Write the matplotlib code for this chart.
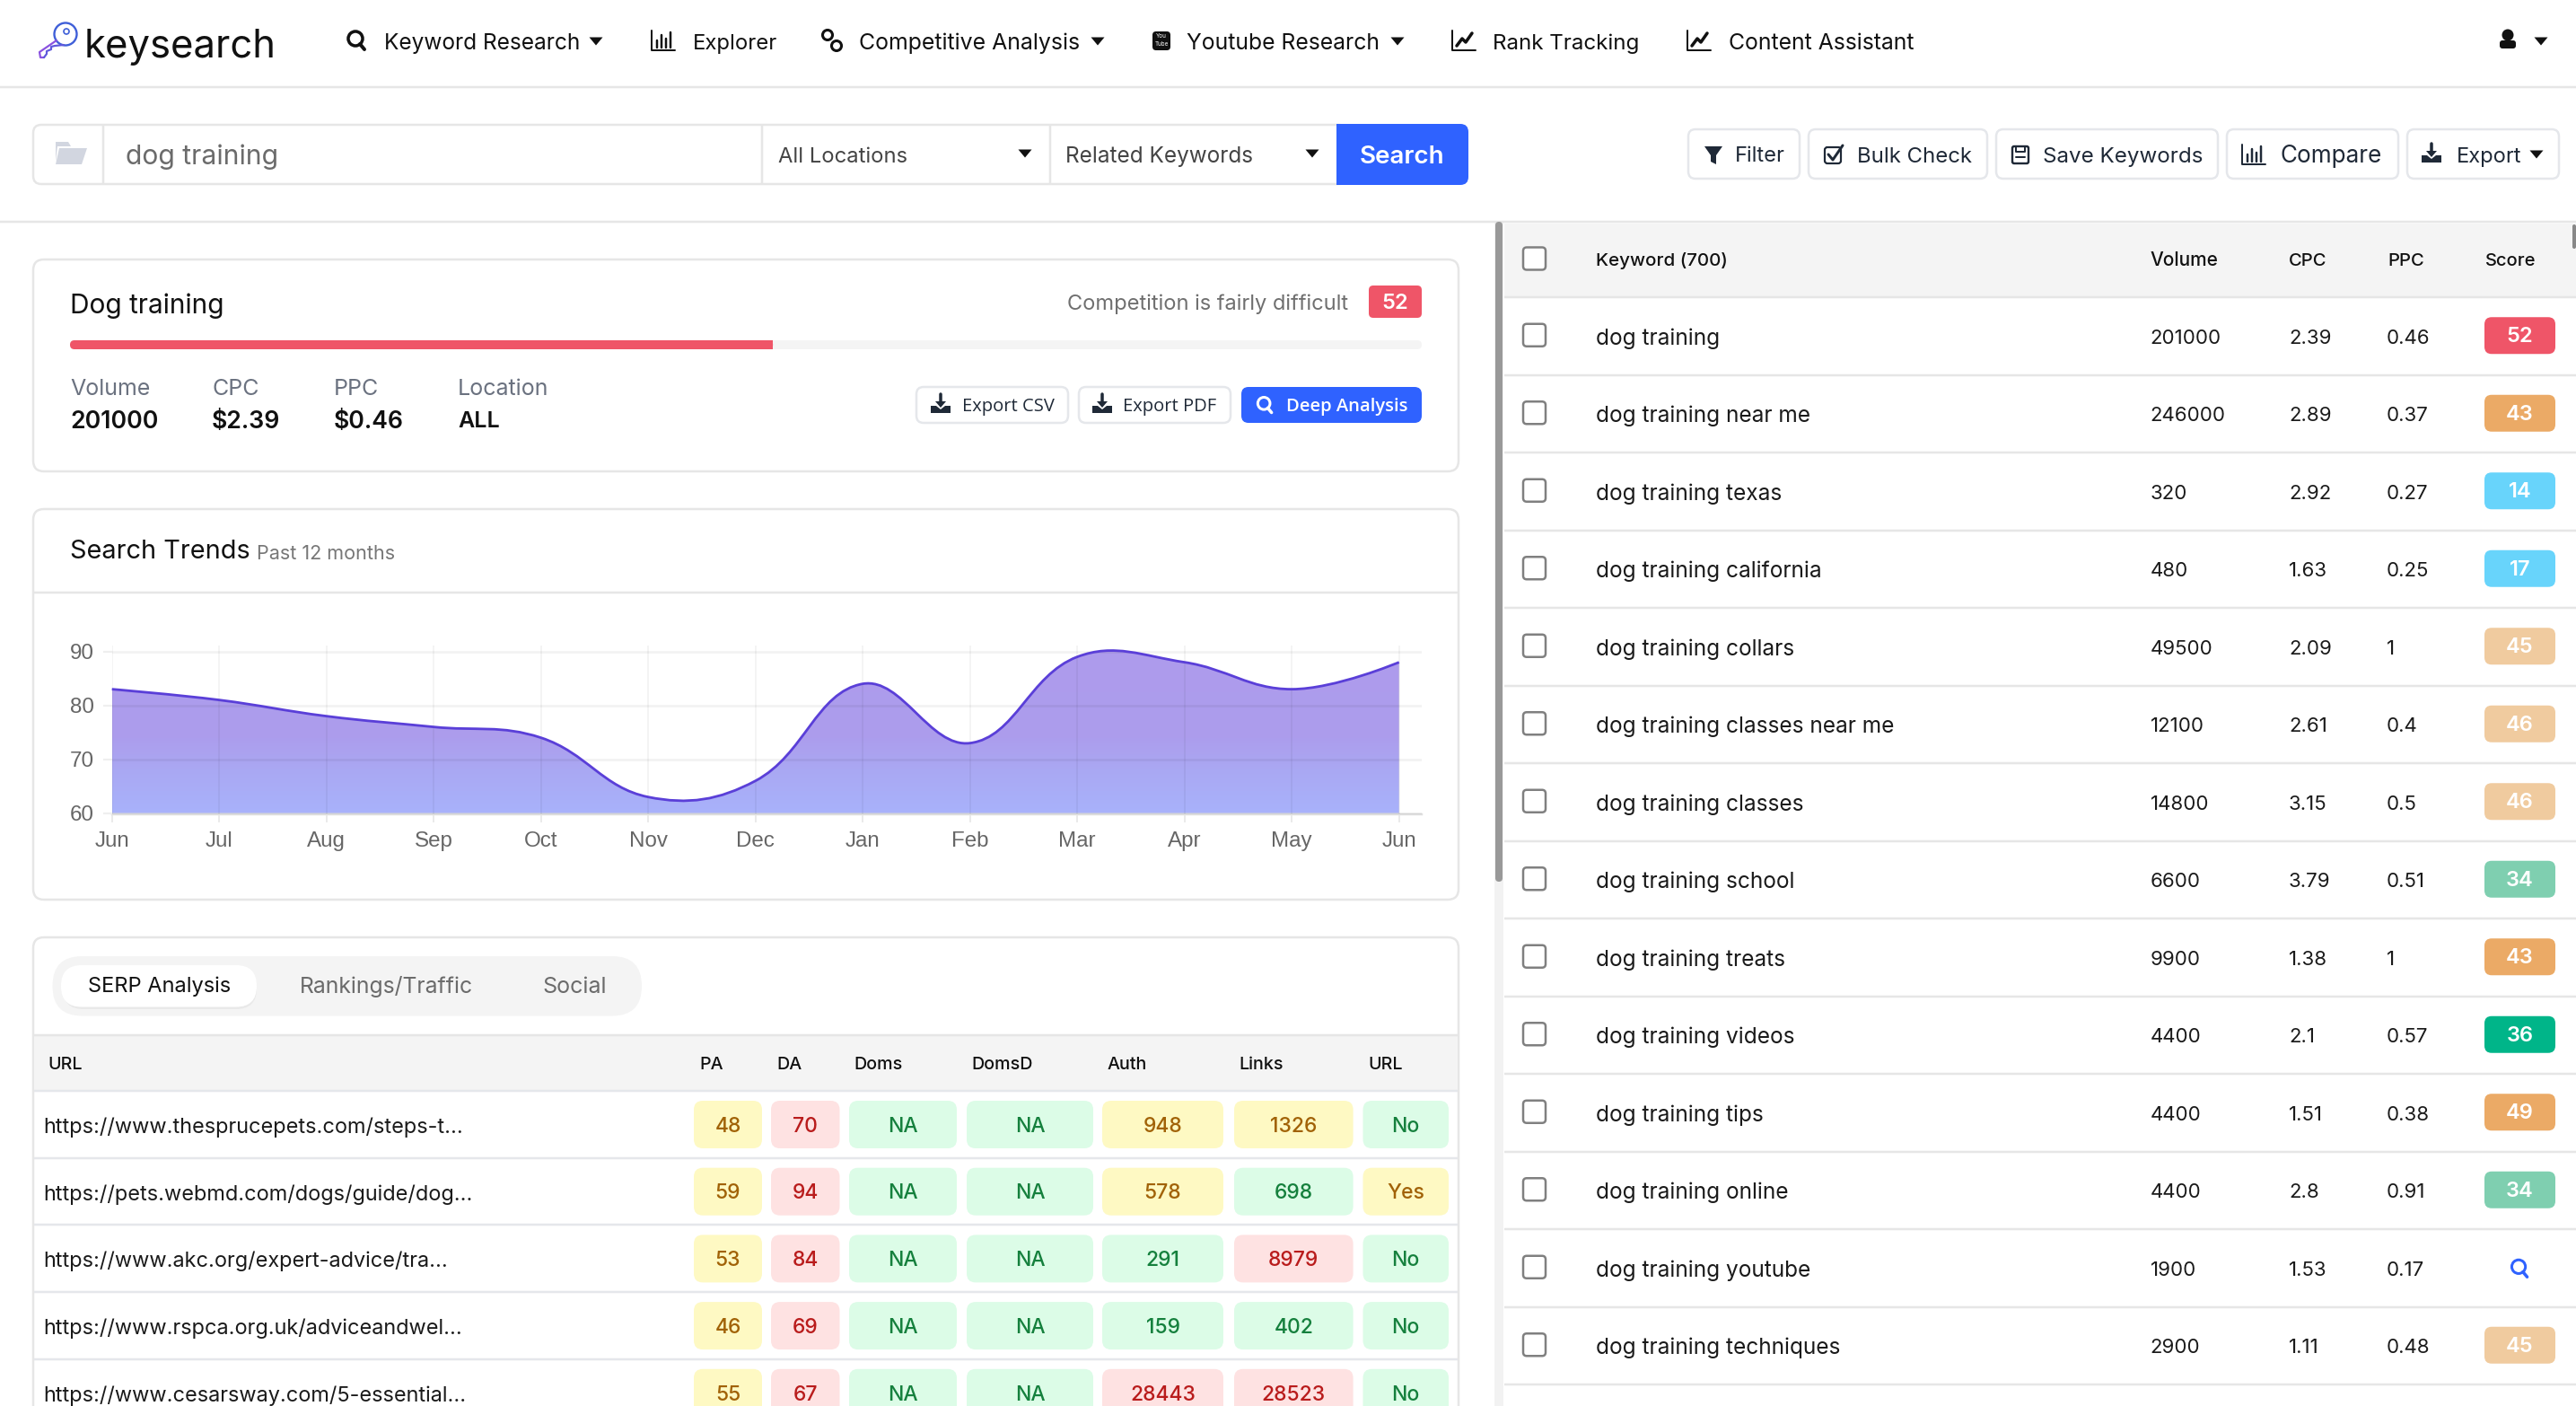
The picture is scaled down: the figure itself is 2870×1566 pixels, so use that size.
import matplotlib
matplotlib.use("Agg")
import matplotlib.pyplot as plt
import numpy as np
from matplotlib.colors import LinearSegmentedColormap
from matplotlib.patches import Circle, FancyBboxPatch, PathPatch, Polygon, Rectangle
from matplotlib.path import Path

# chart data
months = ["Jun", "Jul", "Aug", "Sep", "Oct", "Nov", "Dec", "Jan", "Feb", "Mar", "Apr", "May", "Jun"]
trend = [83, 81, 78, 76, 74, 63, 66, 84, 73, 89, 88, 83, 88]
trend_ticks = [60, 70, 80, 90]

# keyword table
keywords = ["dog training", "dog training near me", "dog training texas", "dog training california",
            "dog training collars", "dog training classes near me", "dog training classes",
            "dog training school", "dog training treats", "dog training videos", "dog training tips",
            "dog training online", "dog training youtube", "dog training techniques"]
volumes = ["201000", "246000", "320", "480", "49500", "12100", "14800", "6600", "9900", "4400", "4400", "4400", "1900", "2900"]
cpcs = ["2.39", "2.89", "2.92", "1.63", "2.09", "2.61", "3.15", "3.79", "1.38", "2.1", "1.51", "2.8", "1.53", "1.11"]
ppcs = ["0.46", "0.37", "0.27", "0.25", "1", "0.4", "0.5", "0.51", "1", "0.57", "0.38", "0.91", "0.17", "0.48"]
scores = [52, 43, 14, 17, 45, 46, 46, 34, 43, 36, 49, 34, None, 45]

# serp table
urls = ["https://www.thesprucepets.com/steps-t...", "https://pets.webmd.com/dogs/guide/dog...",
        "https://www.akc.org/expert-advice/tra...", "https://www.rspca.org.uk/adviceandwel...",
        "https://www.cesarsway.com/5-essential..."]
pa = [48, 59, 53, 46, 55]
da = [70, 94, 84, 69, 67]
doms = ["NA", "NA", "NA", "NA", "NA"]
domsd = ["NA", "NA", "NA", "NA", "NA"]
auth = [948, 578, 291, 159, 28443]
links = [1326, 698, 8979, 402, 28523]
url_flag = ["No", "Yes", "No", "No", "No"]
competition = 52

BODY = ["Inter", "DejaVu Sans"]
OPEN = ["Open Sans", "DejaVu Sans"]
BLUE = "#2f62ff"
RED = "#ef5568"
LINE = "#e6e6e6"
BAND = "#f4f4f4"
SCORE_COLORS = {52: RED, 43: "#ebaa66", 49: "#ebaa66", 14: "#68d4fb", 17: "#68d4fb",
                45: "#f0cb9f", 46: "#f0cb9f", 34: "#7fcfb0", 36: "#00b589"}
TONES = {"g": ("#dcfce7", "#15803d"), "y": ("#fef9c3", "#a16207"), "r": ("#fee2e2", "#b91c1c")}

fig = plt.figure(figsize=(28.7, 15.66), dpi=100, facecolor="white")
ax = fig.add_axes([0, 0, 1, 1])
ax.set_xlim(0, 2870)
ax.set_ylim(1566, 0)
ax.axis("off")


def box(x0, y0, x1, y1, r=8, fc="white", ec="none", lw=0, z=1):
    r = min(r, (x1 - x0) / 2, (y1 - y0) / 2)
    p = FancyBboxPatch((x0 + r, y0 + r), x1 - x0 - 2 * r, y1 - y0 - 2 * r,
                       boxstyle=f"round,pad={r},rounding_size={r}",
                       fc=fc, ec=ec, lw=lw * 0.72, zorder=z)
    ax.add_patch(p)
    return p


def txt(x, y, s, size, color="#111111", weight="normal", ha="left", family=BODY, z=5):
    # y is the middle of the capitals, so rows line up whatever the descenders do
    ax.text(x, y + 0.36 * size * 100 / 72, s, fontsize=size, color=color, weight=weight,
            ha=ha, va="baseline", family=family, zorder=z)


def hline(x0, x1, y, color=LINE, lw=2.5, z=3):
    ax.plot([x0, x1], [y, y], color=color, lw=lw * 0.72, zorder=z, solid_capstyle="butt")


def vline(x, y0, y1, color=LINE, lw=2.5, z=3):
    ax.plot([x, x], [y0, y1], color=color, lw=lw * 0.72, zorder=z, solid_capstyle="butt")


def stroke(xs, ys, color="#111111", lw=3, z=5):
    ax.plot(xs, ys, color=color, lw=lw * 0.72, zorder=z, solid_capstyle="round", solid_joinstyle="round")


def caret(x, y, color="#111111"):
    ax.add_patch(Polygon([[x - 7.5, y - 4.5], [x + 7.5, y - 4.5], [x, y + 4.5]], fc=color, ec="none", zorder=5))


def icon_search(x, y, color="#111111", s=1.0, lw=3.5):
    ax.add_patch(Circle((x - 1 * s, y - 2 * s), 8 * s, fc="none", ec=color, lw=lw * 0.72, zorder=5))
    stroke([x + 4 * s, x + 9 * s], [y + 4 * s, y + 10 * s], color, lw + 0.5)


def icon_bars(x, y, color="#111111"):
    stroke([x - 13, x - 13, x + 13], [y - 11, y + 11, y + 11], color, 2)
    for dx, h in zip([-7, -2, 3, 8], [8, 14, 10, 17]):
        stroke([x + dx, x + dx], [y + 8, y + 8 - h], color, 2.5)


def icon_trend(x, y, color="#111111"):
    stroke([x - 13, x - 13, x + 13], [y - 11, y + 11, y + 11], color, 2)
    stroke([x - 8, x - 2, x + 2, x + 9], [y + 6, y - 2, y + 2, y - 8], color, 3.5)


def icon_download(x, y, color="#1f2937"):
    stroke([x, x], [y - 11, y], color, 3.5)
    ax.add_patch(Polygon([[x - 6, y - 3], [x + 6, y - 3], [x, y + 4]], fc=color, ec="none", zorder=5))
    ax.add_patch(Polygon([[x - 11, y + 2], [x - 5, y + 2], [x, y + 6], [x + 5, y + 2], [x + 11, y + 2],
                          [x + 11, y + 10], [x - 11, y + 10]], fc=color, ec="none", zorder=5))


def checkbox(y):
    box(1697, y - 12.5, 1722, y + 12.5, r=4, fc="white", ec="#808080", lw=2.5, z=4)


def logo():
    blue, mid, purple = "#3f5fd8", "#5f58dc", "#8a52e0"
    ax.add_patch(Circle((73, 38), 12.5, fc="none", ec=blue, lw=1.7, zorder=5))
    ax.add_patch(Circle((74, 35), 3, fc="none", ec=blue, lw=1.2, zorder=5))
    stroke([63, 44, 45, 49], [45, 58, 64, 64], purple, 2.2)
    stroke([49, 52, 52, 57, 57, 61, 71], [64, 60, 57, 55, 52, 51, 50], mid, 2.2)


# page frame and top bar
hline(0, 2870, 97)
hline(0, 2870, 247)
logo()
txt(94, 48, "keysearch", 31.4, "#111111")

icon_search(397, 45)
txt(428, 46, "Keyword Research", 17.6)
caret(664, 46)
icon_bars(739, 45)
txt(772, 46, "Explorer", 17.2)
ax.add_patch(Circle((922, 39), 5.5, fc="none", ec="#111111", lw=2.2, zorder=5))
ax.add_patch(Circle((932, 51), 5.5, fc="none", ec="#111111", lw=2.2, zorder=5))
txt(957, 46, "Competitive Analysis", 17.9)
caret(1223, 46)
box(1284, 35, 1304, 56, r=4, fc="#111111", z=4)
ax.text(1294, 40, "You", color="white", fontsize=4.5, ha="center", va="center", zorder=5, family=BODY)
ax.text(1294, 49, "Tube", color="white", fontsize=4.5, ha="center", va="center", zorder=5, family=BODY)
txt(1322, 46, "Youtube Research", 17.8)
caret(1557, 46)
icon_trend(1631, 45)
txt(1663, 46, "Rank Tracking", 17.4)
icon_trend(1893, 45)
txt(1926, 46, "Content Assistant", 17.8)
ax.add_patch(Circle((2794, 39), 6.5, fc="#111111", ec="none", zorder=5))
ax.add_patch(FancyBboxPatch((2787, 47), 14, 5, boxstyle="round,pad=2,rounding_size=3", fc="#111111", ec="none", zorder=5))
caret(2831, 46)

# search row
box(37, 139, 1500, 205, r=9, fc="white", ec=LINE, lw=2.5, z=2)
vline(115, 139, 205)
vline(849, 139, 205)
vline(1170, 139, 205)
ax.add_patch(Polygon([[62, 183], [66, 165], [97, 165], [91, 183]], fc="#d2d6e0", ec="none", zorder=5))
ax.add_patch(Polygon([[62, 180], [62, 158], [76, 158], [79, 163], [64, 163]], fc="#d2d6e0", ec="none", zorder=5))
txt(140, 172, "dog training", 21.6, "#6b6b6b")
txt(867, 172, "All Locations", 17.1, "#444444")
caret(1142, 171)
txt(1187, 172, "Related Keywords", 17.5, "#444444")
caret(1462, 171)
box(1489, 138, 1636, 206, r=9, fc=BLUE, z=4)
ax.add_patch(Rectangle((1489, 138), 12, 68, fc=BLUE, ec="none", zorder=4))
txt(1562, 172, "Search", 20, "white", weight="semibold", ha="center")

# toolbar buttons
for x0, x1, s, tx, fs in [(1881, 2005, "Filter", 1933, 17), (2015, 2214, "Bulk Check", 2069, 17.2),
                          (2224, 2471, "Save Keywords", 2276, 17.4), (2481, 2672, "Compare", 2540, 18.8),
                          (2682, 2851, "Export", 2737, 17)]:
    box(x0, 144, x1, 199, r=8, fc="white", ec="#e5e7eb", lw=2.5, z=3)
    txt(tx, 172, s, fs, "#1f2937")
ax.add_patch(Polygon([[1899, 163], [1919, 163], [1912, 173], [1912, 183], [1906, 180], [1906, 173]], fc="#1f2937", ec="none", zorder=5))
box(2033, 164, 2051, 182, r=3, fc="none", ec="#1f2937", lw=2.2, z=5)
stroke([2037, 2042, 2053], [172, 178, 162], "#1f2937", 3)
box(2242, 163, 2260, 182, r=2, fc="none", ec="#1f2937", lw=2.4, z=5)
stroke([2246, 2246, 2256, 2256], [163, 169, 169, 163], "#1f2937", 2)
stroke([2246, 2256], [175, 175], "#1f2937", 2)
icon_bars(2511, 172, "#1f2937")
icon_download(2709, 171)
caret(2826, 172)

# keyword panel on the right
ax.add_patch(Rectangle((1665, 247), 10, 1319, fc="#f2f2f2", ec="none", zorder=2))
box(1666, 247, 1674, 982, r=4, fc="#999999", z=3)
ax.add_patch(Rectangle((1676, 249), 1194, 82, fc=BAND, ec="none", zorder=1))
box(2866, 250, 2870, 277, r=2, fc="#888888", z=3)
checkbox(288)
txt(1778, 289, "Keyword (700)", 14.8, "#111111", weight="medium")
txt(2395, 289, "Volume", 15, "#111111", weight="medium")
txt(2550, 289, "CPC", 14.5, "#111111", weight="medium")
txt(2660, 289, "PPC", 14.5, "#111111", weight="medium")
txt(2769, 289, "Score", 14.5, "#111111", weight="medium")
hline(1676, 2870, 331)

row_h = 86.5
for i, kw in enumerate(keywords):
    top = 331 + i * row_h
    mid = top + row_h / 2 + 0.5
    checkbox(mid - 1.5)
    txt(1778, mid, kw, 17.6, "#1a1a1a")
    txt(2395.5, mid, volumes[i], 16, "#1a1a1a")
    txt(2550, mid, cpcs[i], 16, "#1a1a1a")
    txt(2659, mid, ppcs[i], 16, "#1a1a1a")
    if scores[i] is None:
        icon_search(2807, mid, BLUE, s=0.95, lw=3)
    else:
        box(2768, mid - 21.5, 2847, mid + 19.5, r=8, fc=SCORE_COLORS[scores[i]], z=4)
        txt(2807.5, mid - 2, str(scores[i]), 17, "white", weight="semibold", ha="center")
    hline(1676, 2870, top + row_h)

# summary card
box(37, 289, 1625, 525, r=12, fc="white", ec=LINE, lw=2.5, z=2)
txt(78, 338, "Dog training", 21.5, "#111111")
txt(1502, 336, "Competition is fairly difficult", 17, "#6f6f6f", ha="right")
box(1525, 318, 1584, 354, r=5, fc=RED, z=4)
txt(1554.5, 336, str(competition), 17, "white", weight="semibold", ha="center")
box(78, 379, 1584, 389, r=5, fc=BAND, z=3)
fill_x1 = 78 + (1584 - 78) * competition / 100
box(78, 379, fill_x1, 389, r=5, fc=RED, z=4)
ax.add_patch(Rectangle((fill_x1 - 8, 379), 8, 10, fc=RED, ec="none", zorder=4))
stat_labels = ["Volume", "CPC", "PPC", "Location"]
stat_values = ["201000", "$2.39", "$0.46", "ALL"]
for x, lab, val, fs in zip([78, 236, 372, 510], stat_labels, stat_values, [19.2, 19.2, 19.2, 18]):
    txt(x, 431, lab, 18, "#6b7280")
    txt(x, 467, val, fs, "#111111", weight="semibold")
box(1021, 431, 1190, 471, r=8, fc="white", ec="#e5e7eb", lw=2.5, z=3)
box(1202, 431, 1371, 471, r=8, fc="white", ec="#e5e7eb", lw=2.5, z=3)
box(1383, 431, 1584, 471, r=8, fc=BLUE, z=3)
icon_download(1048, 450)
icon_download(1228, 450)
txt(1072, 451, "Export CSV", 14.5, "#1f2937", family=OPEN)
txt(1251, 451, "Export PDF", 14.5, "#1f2937", family=OPEN)
icon_search(1409, 451, "white", s=0.85, lw=3)
txt(1433, 451, "Deep Analysis", 14.5, "white", weight="semibold", family=OPEN)

# search trends card
box(37, 567, 1625, 1002, r=12, fc="white", ec=LINE, lw=2.5, z=2)
hline(38, 1624, 660)
txt(78, 612, "Search Trends", 20.8, "#111111")
txt(286, 615, "Past 12 months", 15.5, "#777777")

chart_left, chart_right, chart_top, chart_bottom = 124.7, 1584, 719, 907.2
chart = fig.add_axes([chart_left / 2870, 1 - chart_bottom / 1566,
                      (chart_right - chart_left) / 2870, (chart_bottom - chart_top) / 1566])
chart.patch.set_alpha(0)
chart.set_xlim(0, (chart_right - chart_left) / 119.5)
chart.set_ylim(59.75, 91.1)
for side in ["top", "right", "left"]:
    chart.spines[side].set_visible(False)
chart.spines["bottom"].set_color("#e0e0e0")
chart.spines["bottom"].set_linewidth(2.5 * 0.72)
chart.set_xticks(range(len(months)))
chart.set_xticklabels(months)
chart.set_yticks(trend_ticks)
chart.tick_params(axis="x", length=6.5, width=1.2, color="#e6e6e6", pad=7, labelsize=17.4, labelcolor="#666666")
chart.tick_params(axis="y", length=7.5, width=1.6, color="#efefef", pad=7, labelsize=17.4, labelcolor="#666666")
for lab in chart.get_xticklabels() + chart.get_yticklabels():
    lab.set_family("Liberation Sans")
chart.set_axisbelow(False)
chart.xaxis.grid(True, color="black", alpha=0.05, lw=1.2)
chart.yaxis.grid(True, color="black", alpha=0.05, lw=1.9)

# same bezier the web chart draws (tension 0.4), control points worked out in screen units
xv = np.arange(len(trend), dtype=float)
yv = np.array(trend, dtype=float)
sx, sy = 119.5, 6.0
verts = [(xv[0], yv[0])]
codes = [Path.MOVETO]
cp_out = (xv[0], yv[0])
for i in range(1, len(xv)):
    if i < len(xv) - 1:
        d0 = np.hypot((xv[i] - xv[i - 1]) * sx, (yv[i] - yv[i - 1]) * sy)
        d1 = np.hypot((xv[i + 1] - xv[i]) * sx, (yv[i + 1] - yv[i]) * sy)
        f0, f1 = 0.4 * d0 / (d0 + d1), 0.4 * d1 / (d0 + d1)
        dx, dy = xv[i + 1] - xv[i - 1], yv[i + 1] - yv[i - 1]
        cp_in = (xv[i] - f0 * dx, yv[i] - f0 * dy)
        next_out = (xv[i] + f1 * dx, yv[i] + f1 * dy)
    else:
        cp_in = (xv[i], yv[i])
        next_out = None
    verts += [cp_out, cp_in, (xv[i], yv[i])]
    codes += [Path.CURVE4] * 3
    cp_out = next_out
area = Path(verts + [(xv[-1], 60), (xv[0], 60), (xv[0], yv[0])],
            codes + [Path.LINETO, Path.LINETO, Path.CLOSEPOLY])
cmap = LinearSegmentedColormap.from_list("trend", [(0, "#a8b2fb"), (0.26, "#aaa8f3"), (0.45, "#ac9ded"), (1, "#ae9bec")])
grad = chart.imshow(np.linspace(0, 1, 256).reshape(-1, 1), cmap=cmap, aspect="auto", origin="lower",
                    extent=[0, 12, 60, 91], zorder=1)
grad.set_clip_path(PathPatch(area, transform=chart.transData))
chart.add_patch(PathPatch(Path(verts, codes), fc="none", ec="#5a3fd8", lw=2.8 * 0.72, zorder=3, clip_on=False))
chart.set_xlim(0, (chart_right - chart_left) / 119.5)
chart.set_ylim(59.75, 91.1)

# serp card, runs off the bottom of the screenshot
box(37, 1044, 1625, 1640, r=12, fc="white", ec=LINE, lw=2.5, z=2)
box(58.5, 1065, 715, 1131.5, r=33, fc=BAND, z=3)
box(70, 1078, 286, 1124, r=23, fc="#e9e9e9", z=3)
box(68, 1075, 286, 1121.5, r=23, fc="white", z=4)
txt(177.5, 1097, "SERP Analysis", 17, "#111111", ha="center")
txt(334, 1097, "Rankings/Traffic", 17.8, "#6b6b6b")
txt(604, 1097, "Social", 18, "#6b6b6b")
ax.add_patch(Rectangle((38, 1153), 1586, 62, fc=BAND, ec="none", zorder=3))
hline(38, 1624, 1153, z=4)
hline(38, 1624, 1215, color="#e5e7eb", z=4)
serp_heads = ["URL", "PA", "DA", "Doms", "DomsD", "Auth", "Links", "URL"]
for x, s in zip([53, 779, 865, 951, 1082, 1234, 1380, 1524], serp_heads):
    txt(x, 1184, s, 14.2, "#111111", weight="medium")


def tone(v, lo, hi):
    return "g" if v < lo else ("y" if v < hi else "r")


def chip(x0, x1, mid, s, t):
    bg, fg = TONES[t]
    box(x0, mid - 26.5, x1, mid + 26.5, r=10, fc=bg, z=4)
    txt((x0 + x1) / 2, mid, str(s), 16.5, fg, weight="medium", ha="center")


for i in range(len(urls)):
    top = 1215 + i * 74.7
    mid = top + 37.5
    txt(48, mid + 1, urls[i], 16.9, "#1a1a1a")
    chip(773, 849, mid, pa[i], tone(pa[i], 30, 60))
    chip(859, 935.5, mid, da[i], tone(da[i], 30, 60))
    chip(946, 1066, mid, doms[i], "g")
    chip(1077, 1218, mid, domsd[i], "g")
    chip(1228, 1363, mid, auth[i], tone(auth[i], 500, 5000))
    chip(1375, 1507.6, mid, links[i], tone(links[i], 1000, 5000))
    chip(1518.5, 1614, mid, url_flag[i], "y" if url_flag[i] == "Yes" else "g")
    hline(38, 1624, top + 74.7, color="#e5e7eb", z=3)

fig.savefig("out.png", dpi=100, facecolor="white")
